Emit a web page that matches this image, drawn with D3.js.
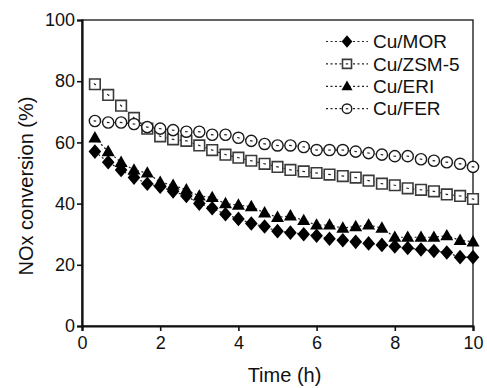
<!DOCTYPE html>
<html>
<head>
<meta charset="utf-8">
<script src="https://cdn.jsdelivr.net/npm/d3@7"></script>
<style>
  body { margin: 0; background: #fff; }
  svg { display: block; }
  text { font-family: "Liberation Sans", Arial, sans-serif; fill: #111; }
</style>
</head>
<body>
<svg id="chart"></svg>
<script>
// time points (h)
const times = [0.33, 0.67, 1.0, 1.33, 1.67, 2.0, 2.33, 2.67, 3.0, 3.33,
  3.67, 4.0, 4.33, 4.67, 5.0, 5.33, 5.67, 6.0, 6.33, 6.67,
  7.0, 7.33, 7.67, 8.0, 8.33, 8.67, 9.0, 9.33, 9.67, 10.0];

// NOx conversion (%)
const mor = [57, 53.5, 51, 48.5, 46.5, 45.5, 44, 42.5, 40, 38.5,
  36.5, 35, 33.5, 32.5, 31, 30.5, 30, 29.5, 28.5, 28,
  27.5, 27, 26.5, 26, 25.5, 25, 24.5, 24, 22.5, 22.5];
const zsm5 = [79, 75.5, 72, 68, 64.5, 62, 61, 60.5, 59, 57.5,
  56, 55, 54, 53, 52, 51, 50.5, 50, 49.5, 49,
  48.5, 47.5, 46.5, 46, 45, 44.5, 44, 43, 42.5, 41.5];
const eri = [61.5, 57, 53.5, 51, 50, 47, 46, 44.5, 42.5, 42,
  40, 39.5, 39, 37, 35.5, 36, 34.5, 33, 33, 32,
  32.5, 33, 32, 29, 29, 29, 29, 29.5, 28, 27.5];
const fer = [67, 66.5, 66.5, 66, 65, 64.5, 64, 63.5, 63.5, 62.5,
  62.5, 61.5, 60.5, 59.5, 59, 59, 58.5, 57.5, 57.5, 57.5,
  57, 56.5, 56, 55.5, 55.5, 54.5, 54, 53.5, 53, 52];

const seriesNames = ["Cu/MOR", "Cu/ZSM-5", "Cu/ERI", "Cu/FER"];
const seriesValues = [mor, zsm5, eri, fer];
const seriesMarkers = ["diamond", "square", "triangle", "circle"];

const xTicks = [0, 2, 4, 6, 8, 10];
const yTicks = [0, 20, 40, 60, 80, 100];

const width = 487, height = 388;
const margin = { top: 20, right: 14, bottom: 62, left: 82 };

const svg = d3.select("#chart").attr("width", width).attr("height", height);

const x = d3.scaleLinear().domain([0, 10]).range([margin.left, width - margin.right]);
const y = d3.scaleLinear().domain([0, 100]).range([height - margin.bottom, margin.top]);

// marker shapes
function markerPath(type, s) {
  if (type === "diamond") {
    const w = 6.3 * s, h = 7.3 * s;
    return `M0,${-h}L${w},0L0,${h}L${-w},0Z`;
  }
  if (type === "square") {
    const a = 5.3 * s;
    return `M${-a},${-a}H${a}V${a}H${-a}Z`;
  }
  if (type === "triangle") {
    const w = 6.5 * s;
    return `M0,${-6.8 * s}L${w},${4.6 * s}L${-w},${4.6 * s}Z`;
  }
  const r = 5.6 * s;
  return `M${r},0A${r},${r} 0 1,1 ${-r},0A${r},${r} 0 1,1 ${r},0Z`;
}

function markerStyle(sel, type) {
  if (type === "diamond" || type === "triangle") {
    sel.attr("fill", "#000").attr("stroke", "none");
  } else if (type === "square") {
    sel.attr("fill", "#fff").attr("stroke", "#3a3a3a").attr("stroke-width", 1.6);
  } else {
    sel.attr("fill", "#fff").attr("stroke", "#1a1a1a").attr("stroke-width", 1.4);
  }
}

// frame
svg.append("rect")
  .attr("x", x(0)).attr("y", y(100))
  .attr("width", x(10) - x(0)).attr("height", y(0) - y(100))
  .attr("fill", "none").attr("stroke", "#111").attr("stroke-width", 1.3);

// axes
const xAxis = svg.append("g")
  .attr("transform", `translate(0,${y(0)})`)
  .call(d3.axisBottom(x).tickValues(xTicks).tickSize(5).tickPadding(5));
const yAxis = svg.append("g")
  .attr("transform", `translate(${x(0)},0)`)
  .call(d3.axisLeft(y).tickValues(yTicks).tickSize(5).tickPadding(2));

[xAxis, yAxis].forEach(g => {
  g.select(".domain").attr("stroke", "#111").attr("stroke-width", 2.2);
  g.selectAll(".tick line").attr("stroke", "#111").attr("stroke-width", 1.6);
  g.selectAll(".tick text")
    .attr("fill", "#111")
    .style("font-size", "18px")
    .style("font-family", '"Liberation Sans", Arial, sans-serif');
});

svg.append("text")
  .attr("x", (x(0) + x(10)) / 2 + 7)
  .attr("y", 382)
  .attr("text-anchor", "middle")
  .style("font-size", "20px")
  .text("Time (h)");

svg.append("text")
  .attr("transform", `translate(33,${(y(0) + y(100)) / 2 + 13}) rotate(-90)`)
  .attr("text-anchor", "middle")
  .style("font-size", "20px")
  .text("NOx conversion (%)");

// series
const line = d3.line().x(d => x(d[0])).y(d => y(d[1]));

seriesValues.forEach((vals, i) => {
  const type = seriesMarkers[i];
  const pts = times.map((t, j) => [t, vals[j]]);
  const g = svg.append("g").attr("class", "series");

  g.append("path")
    .attr("d", line(pts))
    .attr("fill", "none")
    .attr("stroke", "#222")
    .attr("stroke-width", 1.2)
    .attr("stroke-dasharray", "2,2.5");

  const m = g.selectAll("path.marker")
    .data(pts)
    .join("path")
    .attr("class", "marker")
    .attr("transform", d => `translate(${x(d[0])},${y(d[1])})`)
    .attr("d", markerPath(type, 1));
  markerStyle(m, type);

  if (type === "square" || type === "circle") {
    g.selectAll("line.dash")
      .data(pts)
      .join("line")
      .attr("class", "dash")
      .each(function (d, j) {
        const a = pts[Math.max(0, j - 1)], b = pts[Math.min(pts.length - 1, j + 1)];
        const ang = Math.atan2(y(b[1]) - y(a[1]), x(b[0]) - x(a[0]));
        const cx = x(d[0]), cy = y(d[1]);
        d3.select(this)
          .attr("x1", cx - 1.3 * Math.cos(ang)).attr("y1", cy - 1.3 * Math.sin(ang))
          .attr("x2", cx + 1.3 * Math.cos(ang)).attr("y2", cy + 1.3 * Math.sin(ang));
      })
      .attr("stroke", "#222")
      .attr("stroke-width", 1.2);
  }
});

// legend
const legend = svg.append("g");
seriesNames.forEach((name, i) => {
  const type = seriesMarkers[i];
  const ly = 41.5 + i * 22.4;
  const row = legend.append("g").attr("transform", `translate(0,${ly})`);
  row.append("line")
    .attr("x1", 326).attr("x2", 368)
    .attr("stroke", "#222").attr("stroke-width", 1.2)
    .attr("stroke-dasharray", "2,2.5");
  const m = row.append("path")
    .attr("transform", "translate(347,0)")
    .attr("d", markerPath(type, 0.85));
  markerStyle(m, type);
  if (type === "square" || type === "circle") {
    row.append("line").attr("x1", 345.8).attr("x2", 348.2)
      .attr("stroke", "#222").attr("stroke-width", 1.2);
  }
  row.append("text")
    .attr("x", 373)
    .attr("y", 0)
    .attr("dy", "0.35em")
    .style("font-size", "19px")
    .text(name);
});
</script>
</body>
</html>
